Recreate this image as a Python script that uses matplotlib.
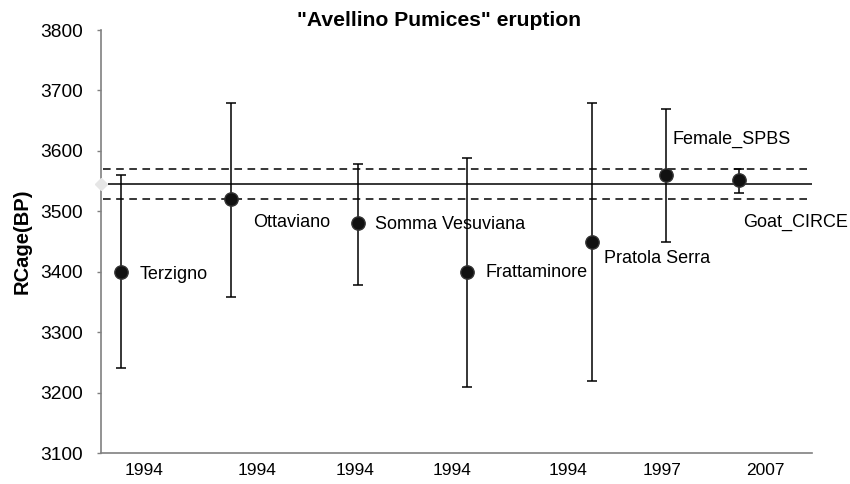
import numpy as np
import matplotlib.pyplot as plt

plt.rcParams['font.family'] = ['Liberation Sans', 'DejaVu Sans']

# ------------------------------ DATA -----------------------------------------
sites = ['Terzigno', 'Ottaviano', 'Somma Vesuviana', 'Frattaminore',
         'Pratola Serra', 'Female_SPBS', 'Goat_CIRCE']
x_pos = [0.20, 1.28, 2.53, 3.60, 4.84, 5.56, 6.28]
rc_age = [3400, 3520, 3480, 3400, 3450, 3560, 3552]
err_low = [3240, 3359, 3378, 3209, 3219, 3450, 3531]
err_high = [3560, 3680, 3579, 3589, 3680, 3669, 3570]

# label anchor positions (x, y) in data units
label_x = [0.38, 1.50, 2.70, 3.79, 4.95, 5.63, 6.32]
label_y = [3396, 3482, 3478, 3398, 3422, 3619, 3481]

years = ['1994', '1994', '1994', '1994', '1994', '1997', '2007']
year_pos = [0.42, 1.54, 2.50, 3.46, 4.60, 5.53, 6.54]

mean_age = 3546
band_low, band_high = 3520, 3570

# ------------------------------ PLOTTING -------------------------------------
fig = plt.figure(figsize=(8.5, 4.84), dpi=100)
ax = fig.add_axes([0.119, 0.064, 0.836, 0.874])

rc = np.array(rc_age)
yerr = [rc - np.array(err_low), np.array(err_high) - rc]
ax.errorbar(x_pos, rc_age, yerr=yerr, fmt='o', color='black', ecolor='black',
            elinewidth=1.1, capsize=3.4, capthick=1.1, markersize=9.6,
            markerfacecolor='#111111', markeredgecolor='#333333', zorder=3)

ax.hlines(mean_age, 0.07, 7, color='black', lw=1.1, zorder=2)
ax.hlines([band_low, band_high], 0.02, 7, color='black', lw=1.1,
          linestyles=(0, (5, 3.6)), zorder=2)
ax.plot([0], [mean_age], marker='D', color='#e6e6e6', markersize=6,
        clip_on=False, zorder=4)

for name, lx, ly in zip(sites, label_x, label_y):
    ax.text(lx, ly, name, fontsize=13, ha='left', va='center')

ax.set_xlim(0, 7)
ax.set_ylim(3100, 3800)
ax.set_yticks(np.arange(3100, 3801, 100))
ax.set_xticks(year_pos)
ax.set_xticklabels(years)
ax.tick_params(axis='x', length=0, pad=7, labelsize=12.5)
ax.tick_params(axis='y', length=3, color='#808080', width=1, labelsize=13.8, pad=10)

for s in ['top', 'right']:
    ax.spines[s].set_visible(False)
for s in ['left', 'bottom']:
    ax.spines[s].set_color('#808080')
    ax.spines[s].set_linewidth(1.2)

ax.set_title('"Avellino Pumices" eruption', fontsize=15.2, fontweight='bold',
             pad=2, x=0.4755)
ax.set_ylabel('RCage(BP)', fontsize=14.5, fontweight='bold', labelpad=6)

fig.savefig('out.png', dpi=100)
